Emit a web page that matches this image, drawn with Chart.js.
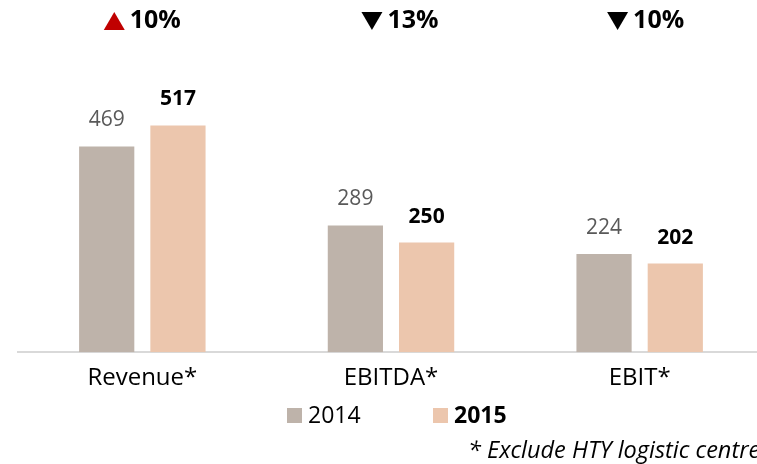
<!DOCTYPE html>
<html>
<head>
<meta charset="utf-8">
<script src="https://cdn.jsdelivr.net/npm/chart.js@4"></script>
<style>
  html, body { margin: 0; padding: 0; background: #fff; overflow: hidden; }
  #wrap { width: 764px; height: 464px; }
</style>
</head>
<body>
<div id="wrap"><canvas id="chart"></canvas></div>
<script>
/*----- data -----*/
const categories = ["Revenue*", "EBITDA*", "EBIT*"]
const values2014 = [469, 289, 224]
const values2015 = [517, 250, 202]
const changePct = [10, -13, -10]
const seriesNames = ["2014", "2015"]
const footnote = "* Exclude HTY logistic centre"

/*----- styles -----*/
const color2014 = "#beb3aa"
const color2015 = "#ecc6ad"
const fontFamily = "'Open Sans', 'DejaVu Sans', sans-serif"
const changeOffsets = [0, 9, 6]

/*----- plugin: value labels, change arrows, legend, note -----*/
const annotations = {
    id: "annotations",
    afterDatasetsDraw(chart) {
        const ctx = chart.ctx
        ctx.save()
        // value labels above bars
        chart.data.datasets.forEach((ds, di) => {
            const meta = chart.getDatasetMeta(di)
            meta.data.forEach((bar, i) => {
                ctx.font = (di === 1 ? "bold " : "") + "21px " + fontFamily
                ctx.fillStyle = di === 1 ? "#000" : "#595959"
                ctx.textAlign = "center"
                ctx.textBaseline = "middle"
                ctx.fillText(ds.data[i], bar.x, bar.y - 26)
            })
        })
        // change arrows at top
        const xScale = chart.scales.x
        changePct.forEach((p, i) => {
            const cx = xScale.getPixelForValue(i) + changeOffsets[i]
            const txt = Math.abs(p) + "%"
            ctx.font = "bold 25px " + fontFamily
            const tw = ctx.measureText(txt).width
            const aw = 21
            const total = aw + 5 + tw
            const x = cx - total / 2
            // triangle
            ctx.fillStyle = p >= 0 ? "#c00000" : "#000"
            ctx.beginPath()
            if (p >= 0) {
                ctx.moveTo(x, 30); ctx.lineTo(x + aw, 30); ctx.lineTo(x + aw / 2, 12)
            } else {
                ctx.moveTo(x, 12); ctx.lineTo(x + aw, 12); ctx.lineTo(x + aw / 2, 30)
            }
            ctx.closePath()
            ctx.fill()
            ctx.textAlign = "left"
            ctx.textBaseline = "middle"
            ctx.fillStyle = "#000"
            ctx.fillText(txt, x + aw + 5, 21)
        })
        // legend
        const legendItems = [
            { x: 287, color: color2014, bold: false },
            { x: 433, color: color2015, bold: true }
        ]
        legendItems.forEach((it, i) => {
            ctx.fillStyle = it.color
            ctx.fillRect(it.x, 408, 15, 15)
            ctx.font = (it.bold ? "bold " : "") + "23px " + fontFamily
            ctx.fillStyle = "#000"
            ctx.textAlign = "left"
            ctx.textBaseline = "middle"
            ctx.fillText(seriesNames[i], it.x + 21, 416)
        })
        // footnote
        ctx.font = "italic 23.5px " + fontFamily
        ctx.fillStyle = "#000"
        ctx.textAlign = "left"
        ctx.textBaseline = "middle"
        ctx.fillText(footnote, 468, 451)
        ctx.restore()
    }
}

/*----- chart -----*/
new Chart(document.getElementById("chart"), {
    type: "bar",
    data: {
        labels: categories,
        datasets: [
            {
                label: seriesNames[0],
                data: values2014,
                backgroundColor: color2014,
                categoryPercentage: 0.573,
                barPercentage: 0.775
            },
            {
                label: seriesNames[1],
                data: values2015,
                backgroundColor: color2015,
                categoryPercentage: 0.573,
                barPercentage: 0.775
            }
        ]
    },
    options: {
        responsive: true,
        maintainAspectRatio: false,
        animation: false,
        layout: { padding: { top: 89, left: 18, right: 0, bottom: 59 } },
        plugins: {
            legend: { display: false },
            tooltip: { enabled: false }
        },
        scales: {
            y: {
                display: false,
                min: 0,
                max: 600
            },
            x: {
                grid: { display: false, drawTicks: false },
                border: { display: true, color: "#d9d9d9", width: 2 },
                ticks: {
                    padding: 12,
                    color: "#000",
                    font: { family: fontFamily, size: 24 }
                }
            }
        }
    },
    plugins: [annotations]
})
</script>
</body>
</html>
